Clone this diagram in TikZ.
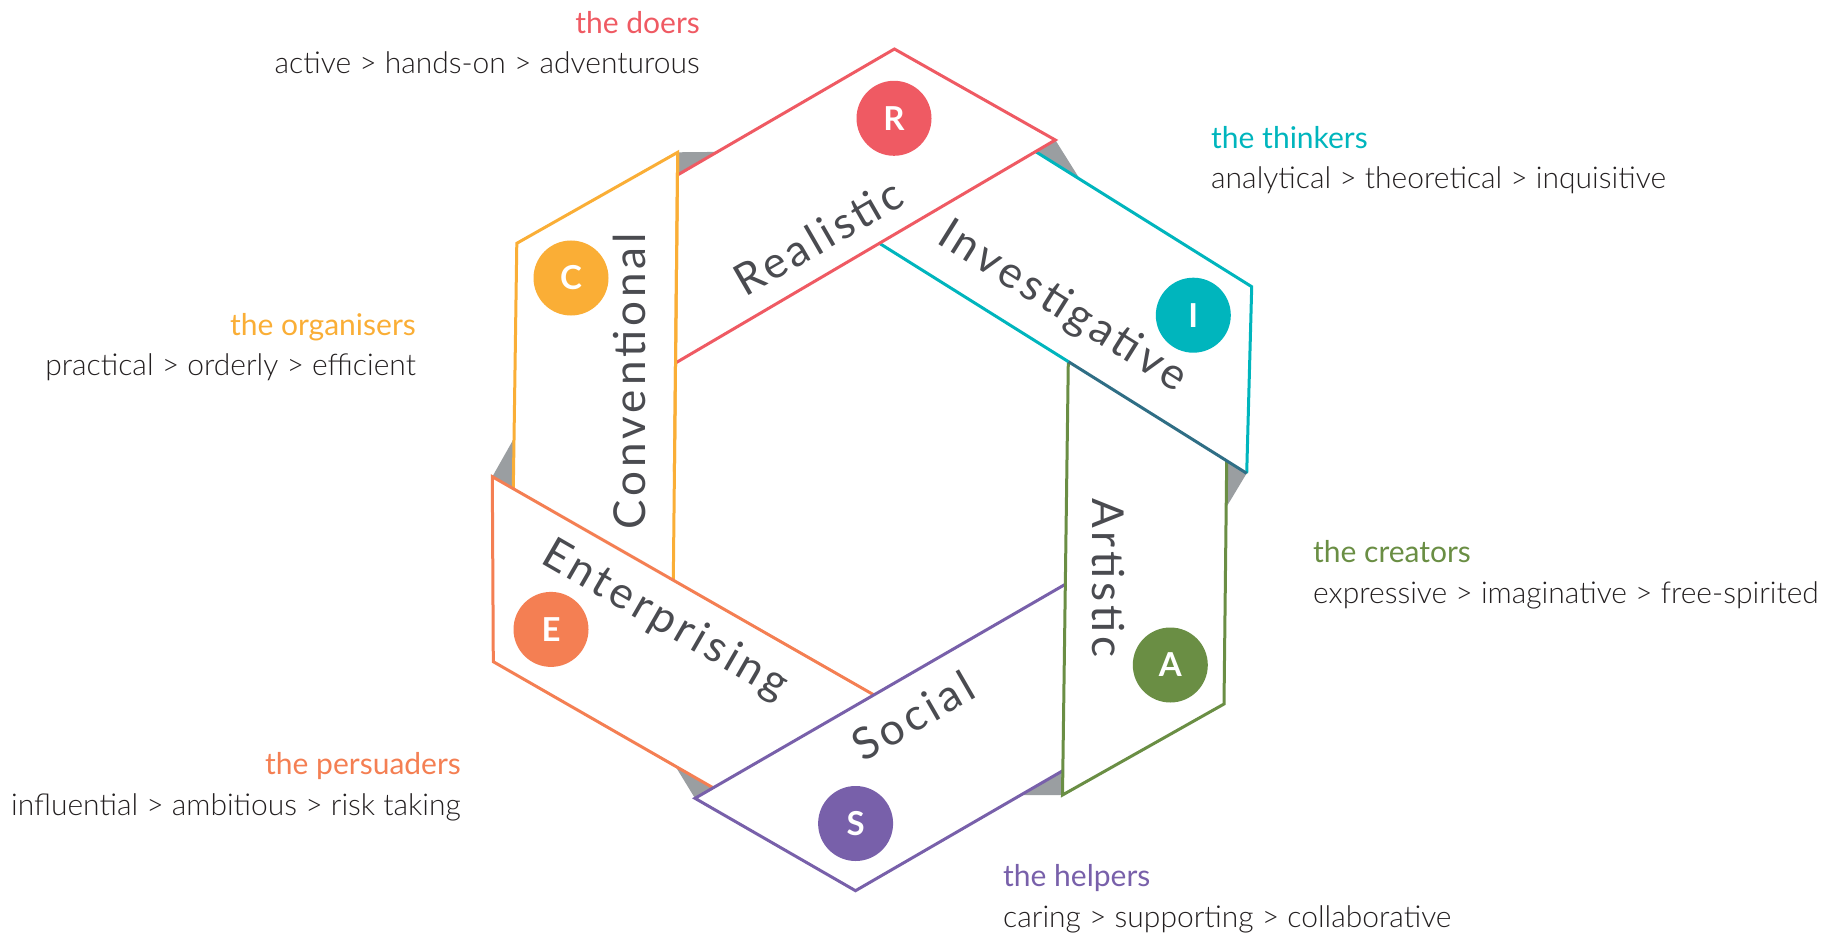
\documentclass[tikz,border=0pt]{standalone}
\usepackage{fontspec}
\usetikzlibrary{calc}
\setmainfont{Lato}
\newfontfamily\bandfont{Lato}[LetterSpace=9]
\newfontfamily\lightfont{Lato Light}
\definecolor{cR}{HTML}{EF5A63}
\definecolor{cI}{HTML}{00B5BD}
\definecolor{cA}{HTML}{6A8E44}
\definecolor{cS}{HTML}{7860AA}
\definecolor{cE}{HTML}{F47F53}
\definecolor{cC}{HTML}{FAAE36}
\definecolor{foldgray}{HTML}{9A9EA1}
\definecolor{deepteal}{HTML}{2F6E85}
\definecolor{labelgray}{HTML}{4A4B50}
\definecolor{desctext}{HTML}{231F20}
\begin{document}
\begin{tikzpicture}[x=1pt,y=-1pt,
  bandfill/.style={fill=white},
  edge/.style={line width=3pt, line join=miter},
  foldtri/.style={fill=foldgray},
  badge/.style={circle, minimum size=75pt, inner sep=0pt, text=white, font=\fontsize{33}{33}\selectfont\bfseries},
  bandlabel/.style={inner sep=0pt, text=labelgray, font=\bandfont\fontsize{44}{44}\selectfont},
  title/.style={inner sep=0pt, font=\fontsize{30}{36}\selectfont},
  descr/.style={inner sep=0pt, text=desctext, font=\lightfont\fontsize{30}{36}\selectfont},
]
\useasboundingbox (0,0) rectangle (1838,933);

% red band
\coordinate (rA) at (677.5,175);
\coordinate (rB) at (894.4,49);
\coordinate (rC) at (1055.3,140);
\coordinate (rD) at (675.5,363);
% teal band
\coordinate (tA) at (879.4,243.3);
\coordinate (tB) at (1035.6,151.6);
\coordinate (tC) at (1251.7,286.7);
\coordinate (tD) at (1246.7,473.3);
\coordinate (tM) at (1068.3,361.6);
% green band
\coordinate (gB) at (1226.7,460.8);
\coordinate (gC) at (1224,704);
\coordinate (gD) at (1062.5,795);
% purple band
\coordinate (pA) at (695,798.3);
\coordinate (pB) at (1065.3,584.3);
\coordinate (pC) at (1062.8,770.7);
\coordinate (pD) at (855.5,890.7);
% orange band
\coordinate (oA) at (492.3,476.7);
\coordinate (oB) at (873.9,694.9);
\coordinate (oC) at (713.1,787.8);
\coordinate (oD) at (493.3,661.7);
% yellow band
\coordinate (yA) at (516.8,243.3);
\coordinate (yB) at (677.7,152.3);
\coordinate (yC) at (673.3,580.2);
\coordinate (yD) at (513.3,488.7);
% fold points
\coordinate (f1) at (717.2,151.9);
\coordinate (f2) at (1080,179.4);
\coordinate (f3) at (1226.6,506.7);
\coordinate (f4) at (1020.8,795);
\coordinate (f5) at (675,765.6);
\coordinate (f6) at (514,438.3);

% white band areas
\fill[bandfill] (rA) -- (rB) -- (rC) -- (rD) -- cycle;
\fill[bandfill] (tA) -- (tB) -- (tC) -- (tD) -- cycle;
\fill[bandfill] (tM) -- (gB) -- (gC) -- (gD) -- cycle;
\fill[bandfill] (pA) -- (pB) -- (pC) -- (pD) -- cycle;
\fill[bandfill] (oA) -- (oB) -- (oC) -- (oD) -- cycle;
\fill[bandfill] (yA) -- (yB) -- (yC) -- (yD) -- cycle;

% folds
\fill[foldtri] (yB) -- (f1) -- (rA) -- cycle;
\fill[foldtri] (rC) -- (tB) -- (f2) -- cycle;
\fill[foldtri] (tD) -- (gB) -- (f3) -- cycle;
\fill[foldtri] (gD) -- (f4) -- (pC) -- cycle;
\fill[foldtri] (pA) -- (oC) -- (f5) -- cycle;
\fill[foldtri] (oA) -- (f6) -- (yD) -- cycle;

% outlines
\draw[edge,cC] (yC) -- (yB) -- (yA) -- (yD);
\draw[edge,cE] (oB) -- (oA) -- (oD) -- (oC);
\draw[edge,cS] (pB) -- (pA) -- (pD) -- (pC);
\draw[edge,cA] (gB) -- (gC) -- (gD) -- (tM);
\draw[edge,cI] (tB) -- (tC) -- (tD);
\draw[edge,deepteal] (tD) -- (tM);
\draw[edge,cI] (tM) -- (tA);
\draw[edge,cR] (rA) -- (rB) -- (rC) -- (rD);
\draw[edge,cC] (yB) -- ($(rD)!0.5!(yC)$);

% badges
\node[badge, fill=cR] (bR) at (894,118.3) {R};
\node[badge, fill=cI] (bI) at (1193.3,315.2) {I};
\node[badge, fill=cA] (bA) at (1170.3,665) {A};
\node[badge, fill=cS] (bS) at (855.6,823.5) {S};
\node[badge, fill=cE] (bE) at (551,629.4) {E};
\node[badge, fill=cC] (bC) at (571,278) {C};

% band labels
\node[bandlabel, rotate=30] (lR) at (818,237) {Realistic};
\node[bandlabel, rotate=-32] (lI) at (1062,307) {Investigative};
\node[bandlabel, rotate=-90] (lA) at (1108,578) {Artistic};
\node[bandlabel, rotate=30] (lS) at (913,716) {Social};
\node[bandlabel, rotate=-30] (lE) at (665,621) {Enterprising};
\node[bandlabel, rotate=90] (lC) at (629.5,381) {Conventional};

% side texts
\node[title, text=cR, anchor=base east] (tR) at (700,34) {the doers};
\node[descr, anchor=base east] (dR) at (700,74) {active > hands-on > adventurous};
\node[title, text=cI, anchor=base west] (tI) at (1211,149) {the thinkers};
\node[descr, anchor=base west] (dI) at (1211,189) {analytical > theoretical > inquisitive};
\node[title, text=cC, anchor=base east] (tC) at (416,335) {the organisers};
\node[descr, anchor=base east] (dC) at (416,375) {practical > orderly > efficient};
\node[title, text=cA, anchor=base west] (tA) at (1313,562) {the creators};
\node[descr, anchor=base west] (dA) at (1313,603) {expressive > imaginative > free-spirited};
\node[title, text=cE, anchor=base east] (tE) at (461,774.5) {the persuaders};
\node[descr, anchor=base east] (dE) at (461,815) {influential > ambitious > risk taking};
\node[title, text=cS, anchor=base west] (tS) at (1003,886.5) {the helpers};
\node[descr, anchor=base west] (dS) at (1003,927) {caring > supporting > collaborative};
\end{tikzpicture}
\end{document}
